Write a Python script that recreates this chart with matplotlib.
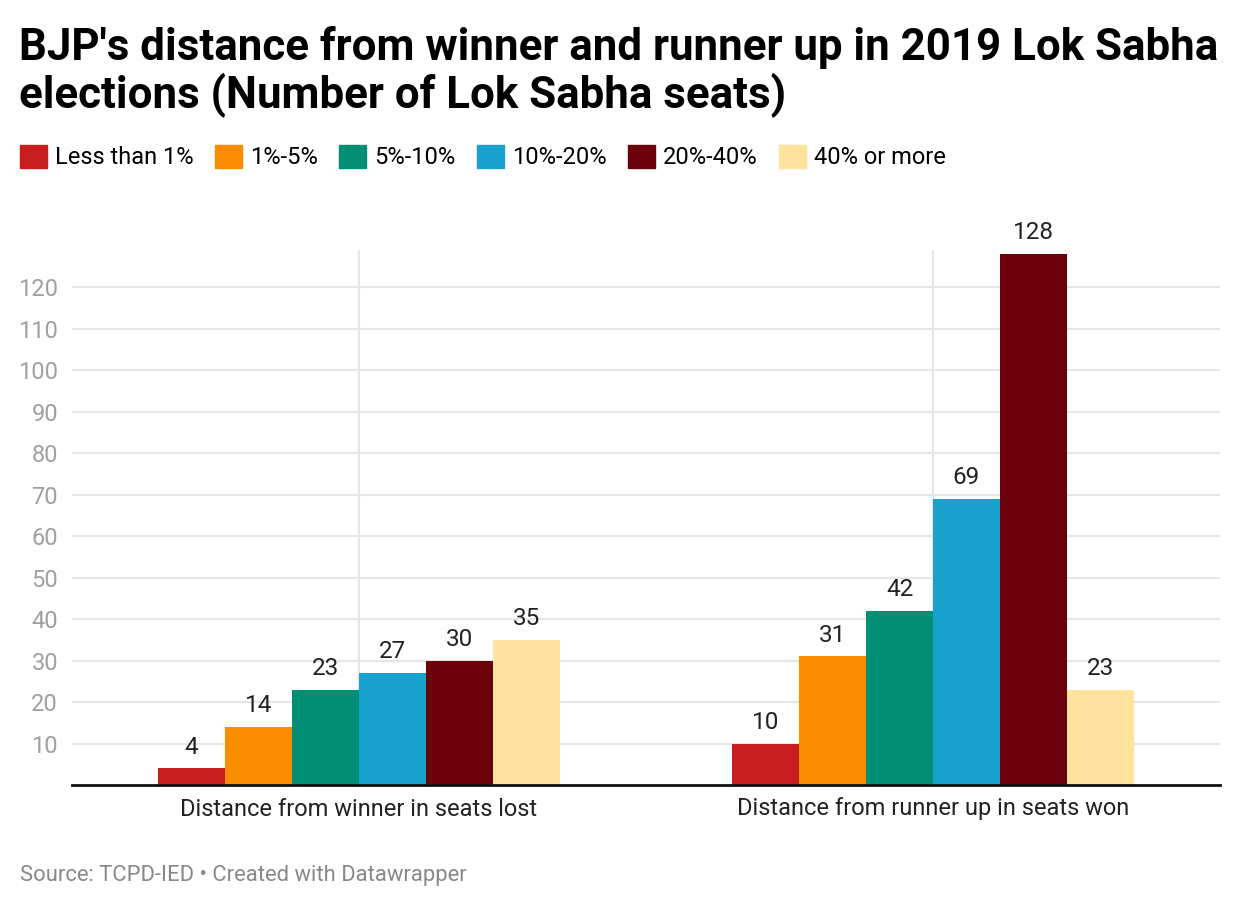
import matplotlib.pyplot as plt
import numpy as np
from matplotlib.patches import Patch

plt.rcParams['font.family'] = ['Roboto', 'DejaVu Sans']

categories = ["Distance from winner in seats lost", "Distance from runner up in seats won"]
series = ["Less than 1%", "1%-5%", "5%-10%", "10%-20%", "20%-40%", "40% or more"]
values = [
    [4, 10],
    [14, 31],
    [23, 42],
    [27, 69],
    [30, 128],
    [35, 23],
]
colors = ["#c71e1d", "#fa8c00", "#008f74", "#18a1cd", "#6b020b", "#ffe29b"]
yticks = [10, 20, 30, 40, 50, 60, 70, 80, 90, 100, 110, 120]

fig = plt.figure(figsize=(12.4, 9.08), dpi=100)
ax = fig.add_axes([72/1240, 1 - 785/908, 1148/1240, 535/908])

x = np.arange(len(categories))
w = 0.7 / len(series)
for i, (name, vals) in enumerate(zip(series, values)):
  pos = x + (i - (len(series) - 1) / 2) * w
  ax.bar(pos, vals, width=w, color=colors[i], zorder=3)
  for p, v in zip(pos, vals):
    ax.annotate(str(v), (p, v), xytext=(0, 7), textcoords='offset points',
                ha='center', va='bottom', fontsize=17.5, color='#222222')

ax.set_xlim(-0.5, 1.5)
ax.set_ylim(0, 129)
ax.set_yticks(yticks)
ax.set_xticks(x)
ax.set_xticklabels(categories, fontsize=17, color='#222222')
ax.tick_params(axis='y', length=0, labelsize=17, labelcolor='#a0a0a0', pad=10)
ax.tick_params(axis='x', length=0, pad=9)
ax.grid(True, color='#e6e6e6', linewidth=1.5, zorder=0)
for s in ['top', 'right', 'left']:
  ax.spines[s].set_visible(False)
ax.spines['bottom'].set_linewidth(2)
ax.spines['bottom'].set_color('#111111')
ax.spines['bottom'].set_zorder(4)

fig.text(19/1240, 1 - 26/908,
         "BJP's distance from winner and runner up in 2019 Lok Sabha\nelections (Number of Lok Sabha seats)",
         fontsize=31.6, fontweight='bold', va='top', ha='left', linespacing=1.1, color='#000000')

handles = [Patch(color=c) for c in colors]
fig.legend(handles, series, loc='center left', bbox_to_anchor=(3/1240, 1 - 157/908),
           ncol=6, frameon=False, fontsize=17, handlelength=1.15, handleheight=1.15,
           handletextpad=0.34, columnspacing=0.9, borderpad=0.2)

fig.text(20/1240, 1 - 875/908, "Source: TCPD-IED \u2022 Created with Datawrapper",
         fontsize=15.8, color='#888888', va='center', ha='left')

plt.savefig('out.png', dpi=100)
